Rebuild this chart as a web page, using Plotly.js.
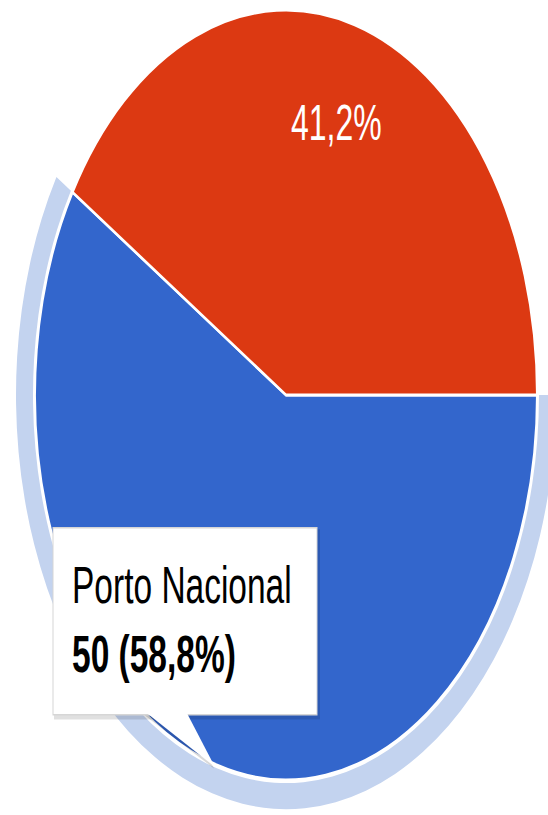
<!DOCTYPE html>
<html><head><meta charset="utf-8">
<script src="https://cdn.plot.ly/plotly-3.0.1.min.js"></script>
<style>
html,body{margin:0;padding:0;width:548px;height:815px;overflow:hidden;background:#fff}
#wrap{position:absolute;left:0;top:0;width:600px;height:600px;transform-origin:0 0;transform:scaleY(1.534) translateY(-30px);}
#chart{width:600px;height:600px}
</style></head><body>
<div id="wrap"><div id="chart"></div></div>
<script>
// data
const labels = ['Porto Nacional', 'Outro'];
const values = [50, 35];
const colors = ['#3366cc', '#dc3912'];
const highlightColor = '#c3d3ef';
const tooltipTitle = 'Porto Nacional';

// geometry (unscaled px)
const W = 600, H = 600, OFF = 30;
const cx = 286, cy = 257.5 + OFF, R = 251, RING_IN = 253, RING_OUT = 270;
const ROT = 90; // first slice starts at 3 o'clock, clockwise
function dom(r){ return {x:[(cx-r)/W,(cx+r)/W], y:[(H-cy-r)/H,(H-cy+r)/H]}; }
const px = x => x / W;
const py = y => 1 - (y + OFF) / H;

const total = values.reduce((a,b)=>a+b,0);
const fmtPct = v => (100 * v / total).toFixed(1).replace('.', ',') + '%';
const tooltipValue = values[0] + ' (' + fmtPct(values[0]) + ')';

const ring = {
  type: 'pie', labels: labels, values: values, sort: false,
  direction: 'clockwise', rotation: ROT,
  hole: RING_IN / RING_OUT,
  marker: {colors: [highlightColor, 'rgba(0,0,0,0)'], line: {width: 0}},
  textinfo: 'none', hoverinfo: 'skip', showlegend: false,
  domain: dom(RING_OUT)
};
const main = {
  type: 'pie', labels: labels, values: values, sort: false,
  direction: 'clockwise', rotation: ROT,
  marker: {colors: colors, line: {color: '#ffffff', width: 2}},
  textinfo: 'none',
  hoverinfo: 'skip', showlegend: false,
  domain: dom(R)
};

// slice label for the second slice, placed at the slice's mid angle
const startDeg = 90 - ROT; // math angle of first slice start
const midFrac = (values[0] + values[1] / 2) / total;
const midDeg = startDeg - 360 * midFrac;
const lr = 0.737 * R;
const lx = cx + lr * Math.cos(midDeg * Math.PI / 180);
const ly = (cy - OFF) - lr * Math.sin(midDeg * Math.PI / 180);

// tooltip box (unscaled px)
const bx0 = 53, bx1 = 317, by0 = 344, by1 = 466, tipX = 215, tipY = 500, tl = 147, tr = 187;
function pathOf(pts){ return 'M ' + pts.map(p => px(p[0]) + ',' + py(p[1])).join(' L ') + ' Z'; }
const shapes = [
  {type:'rect', xref:'paper', yref:'paper', x0:px(bx0+1), x1:px(bx1+3), y0:py(by0+1), y1:py(by1+3),
   fillcolor:'rgba(0,0,0,0.12)', line:{width:0}, layer:'above'},
  {type:'path', xref:'paper', yref:'paper', path: pathOf([[tl-3,by1],[tipX-1,tipY+1],[tr,by1]]),
   fillcolor:'rgba(0,0,0,0.15)', line:{width:0}, layer:'above'},
  {type:'rect', xref:'paper', yref:'paper', x0:px(bx0), x1:px(bx1), y0:py(by0), y1:py(by1),
   fillcolor:'#ffffff', line:{color:'#d6d6d6', width:1}, layer:'above'},
  {type:'path', xref:'paper', yref:'paper', path: pathOf([[tl,by1-1],[tipX,tipY],[tr,by1-1]]),
   fillcolor:'#ffffff', line:{width:0}, layer:'above'}
];
const FONT = 'Liberation Sans, Arial, sans-serif';
const annotations = [
  {xref:'paper', yref:'paper', x:px(lx), y:py(ly), xanchor:'center', yanchor:'middle', showarrow:false,
   text: fmtPct(values[1]), font:{family:FONT, size:32, color:'#ffffff'}},
  {xref:'paper', yref:'paper', x:px(70), y:py(381), xanchor:'left', yanchor:'middle', showarrow:false,
   text: tooltipTitle, font:{family:FONT, size:33.5, color:'#000000'}},
  {xref:'paper', yref:'paper', x:px(70), y:py(426.7), xanchor:'left', yanchor:'middle', showarrow:false,
   text: '<b>' + tooltipValue + '</b>', font:{family:FONT, size:33.5, color:'#000000'}}
];

Plotly.newPlot('chart', [ring, main], {
  width: W, height: H, margin: {l:0, r:0, t:0, b:0},
  paper_bgcolor: 'rgba(0,0,0,0)', plot_bgcolor: 'rgba(0,0,0,0)',
  separators: ',.', showlegend: false,
  shapes: shapes, annotations: annotations
}, {displayModeBar: false, staticPlot: true});
</script>
</body></html>
